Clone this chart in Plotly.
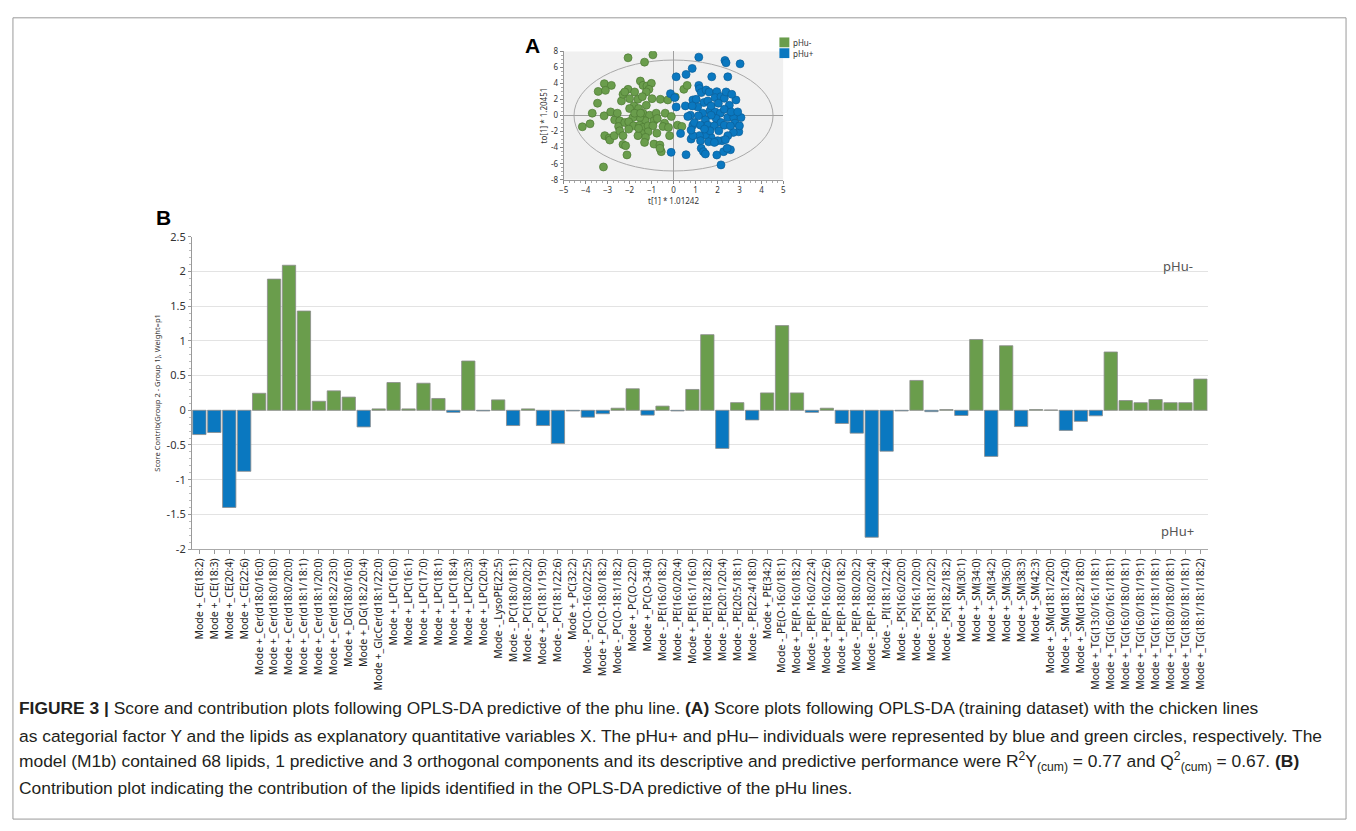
import plotly.graph_objects as go

# ---------------- DATA ----------------
lipids = [
    "Mode +_CE(18:2)", "Mode +_CE(18:3)", "Mode +_CE(20:4)", "Mode +_CE(22:6)",
    "Mode +_Cer(d18:0/16:0)", "Mode +_Cer(d18:0/18:0)", "Mode +_Cer(d18:0/20:0)",
    "Mode +_Cer(d18:1/18:1)", "Mode +_Cer(d18:1/20:0)", "Mode +_Cer(d18:2/23:0)",
    "Mode +_DG(18:0/16:0)", "Mode +_DG(18:2/20:4)", "Mode +_GlcCer(d18:1/22:0)",
    "Mode +_LPC(16:0)", "Mode +_LPC(16:1)", "Mode +_LPC(17:0)", "Mode +_LPC(18:1)",
    "Mode +_LPC(18:4)", "Mode +_LPC(20:3)", "Mode +_LPC(20:4)", "Mode -_LysoPE(22:5)",
    "Mode -_PC(18:0/18:1)", "Mode -_PC(18:0/20:2)", "Mode +_PC(18:1/19:0)",
    "Mode -_PC(18:1/22:6)", "Mode +_PC(32:2)", "Mode -_PC(O-16:0/22:5)",
    "Mode +_PC(O-18:0/18:2)", "Mode -_PC(O-18:1/18:2)", "Mode +_PC(O-22:0)",
    "Mode +_PC(O-34:0)", "Mode -_PE(16:0/18:2)", "Mode -_PE(16:0/20:4)",
    "Mode +_PE(16:1/16:0)", "Mode -_PE(18:2/18:2)", "Mode -_PE(20:1/20:4)",
    "Mode -_PE(20:5/18:1)", "Mode -_PE(22:4/18:0)", "Mode +_PE(34:2)",
    "Mode -_PE(O-16:0/18:1)", "Mode +_PE(P-16:0/18:2)", "Mode -_PE(P-16:0/22:4)",
    "Mode +_PE(P-16:0/22:6)", "Mode +_PE(P-18:0/18:2)", "Mode -_PE(P-18:0/20:2)",
    "Mode -_PE(P-18:0/20:4)", "Mode -_PI(18:1/22:4)", "Mode -_PS(16:0/20:0)",
    "Mode -_PS(16:1/20:0)", "Mode -_PS(18:1/20:2)", "Mode -_PS(18:2/18:2)",
    "Mode +_SM(30:1)", "Mode +_SM(34:0)", "Mode +_SM(34:2)", "Mode +_SM(36:0)",
    "Mode +_SM(38:3)", "Mode +_SM(42:3)", "Mode +_SM(d18:1/20:0)",
    "Mode +_SM(d18:1/24:0)", "Mode +_SM(d18:2/18:0)", "Mode +_TG(13:0/16:1/18:1)",
    "Mode +_TG(16:0/16:1/18:1)", "Mode +_TG(16:0/18:0/18:1)", "Mode +_TG(16:0/18:1/19:1)",
    "Mode +_TG(16:1/18:1/18:1)", "Mode +_TG(18:0/18:0/18:1)", "Mode +_TG(18:0/18:1/18:1)",
    "Mode +_TG(18:1/18:1/18:2)",
]

contrib = [
    -0.35, -0.32, -1.40, -0.88, 0.245, 1.89, 2.09, 1.43, 0.13, 0.28,
    0.19, -0.24, 0.02, 0.40, 0.02, 0.39, 0.17, -0.03, 0.71, -0.01,
    0.15, -0.22, 0.02, -0.22, -0.48, -0.01, -0.10, -0.05, 0.03, 0.31,
    -0.07, 0.06, -0.01, 0.30, 1.09, -0.55, 0.11, -0.14, 0.25, 1.22,
    0.25, -0.03, 0.03, -0.19, -0.33, -1.83, -0.59, -0.01, 0.43, -0.02,
    0.01, -0.075, 1.02, -0.665, 0.93, -0.235, 0.01, 0.005, -0.29, -0.16,
    -0.08, 0.84, 0.14, 0.11, 0.155, 0.11, 0.11, 0.45,
]

y_ticks = [2.5, 2, 1.5, 1, 0.5, 0, -0.5, -1, -1.5, -2]
y_tick_text = ["2.5", "2", "1.5", "1", "0.5", "0", "-0.5", "-1", "-1.5", "-2"]

# Score plot (panel A): pHu- (green) and pHu+ (blue) individuals
neg_x = [-0.94, -2.07, -1.32, -3.15, -2.83, -3.43, -3.10, -3.46, -3.70, -3.16,
         -4.15, -3.80, -3.13, -2.93, -2.90, -2.70, -2.30, -2.18, -2.12, -3.19,
         -2.86, -2.68, -2.56, -2.45, -2.50, -2.22, -2.37, -2.30, -2.07, -2.22,
         -1.77, -2.00, -1.80, -2.00, -1.62, -1.51, -1.39, -1.21, -1.01, -1.12,
         -1.24, -1.42, -0.98, -1.24, -1.59, -1.39, -1.09, -0.79, -0.89, -1.29,
         -1.54, -1.85, -2.04, -1.82, -1.54, -1.39, -1.16, -0.94, -1.16, -1.47,
         -1.62, -1.27, -1.32, -0.76, -0.89, -0.62, -0.56, -0.62, -0.60, -0.26,
         -0.38, -0.10, -0.41, -0.48, -0.23, 0.18, 0.38, -0.18, 0.08, 0.47,
         0.62, -1.59, -2.04, -1.77, -1.50, -0.74, -2.45, -2.30]
neg_y = [7.55, 7.18, 6.64, 3.96, 3.75, 3.00, 3.13, 1.53, 0.29, -0.04,
         -1.40, -1.03, -2.50, -2.80, -3.05, -2.50, -3.60, -3.75, -4.90, -6.40,
         0.45, -0.54, 0.29, -0.66, -1.36, -0.87, 1.81, 2.64, 3.26, 2.93,
         2.93, 2.10, 1.20, 0.87, 2.02, 4.29, 3.75, 3.67, 4.00, 3.26,
         2.93, 2.35, 2.10, 1.28, 0.87, 0.29, 0.04, 0.29, -0.66, -0.66,
         -0.25, -0.25, -0.78, -1.28, -1.20, -1.48, -1.28, -1.28, -2.02, -2.19,
         -2.50, -2.72, -3.34, -2.19, -3.55, -3.67, -4.49, -4.08, 2.02, 1.94,
         0.29, -0.12, -0.95, -1.36, -1.48, -1.20, -1.36, -2.50, 2.31, 3.26,
         3.75, -1.60, -1.69, 0.29, 0.29, -0.37, -1.90, -2.50]

pos_x = [1.15, 2.34, 2.39, 3.03, 0.85, 0.57, 0.12, 1.74, 2.47, -0.14,
         0.12, 0.05, 0.54, 0.88, 0.77, -0.11, 0.57, 0.32, 0.80, 0.88,
         1.15, 1.18, 1.26, 1.48, 1.62, 1.97, 1.89, 2.16, 2.31, 2.54,
         2.84, 2.39, 2.65, 1.03, 1.38, 1.56, 1.10, 1.33, 1.66, 1.89,
         2.13, 1.94, 1.71, 1.45, 1.13, 0.95, 1.23, 1.56, 1.86, 2.16,
         2.47, 2.74, 3.07, 2.80, 2.97, 2.72, 2.47, 2.21, 2.36, 2.01,
         1.71, 1.45, 1.18, 0.88, 1.23, 1.60, 1.86, 1.26, 1.36, 1.45,
         1.97, 2.28, 2.59, 2.44, 2.16, 2.31, 2.59, 2.06, 1.66, 1.41,
         0.80, 0.65, 0.85, 1.71, 2.04, 2.31, 2.62, 2.92, 3.00]
pos_y = [7.26, 6.85, 6.56, 6.43, 5.86, 5.11, 4.82, 4.82, 4.82, 2.72,
         1.07, 2.23, 1.20, 1.94, 0.04, -4.58, -4.87, -2.23, -2.93, -1.20,
         3.75, 3.34, 2.85, 3.18, 2.93, 2.97, 2.23, 2.35, 2.14, 1.28,
         1.94, 2.93, 2.64, 2.02, 1.61, 1.81, 1.07, 0.29, 0.58, 0.45,
         0.29, -0.37, 0.04, -0.54, -0.04, -0.87, -1.20, -1.20, -1.28, -0.87,
         -0.25, -0.25, -0.25, -0.95, -2.02, -2.10, -2.50, -3.13, -3.00, -3.13,
         -2.72, -2.43, -2.50, -2.50, -3.13, -3.26, -3.34, -4.08, -4.49, -4.78,
         -4.91, -4.49, -4.25, -4.08, -6.14, -1.20, -1.28, -1.90, -1.90, -1.69,
         -1.81, -0.12, 1.20, 1.20, 1.53, 0.78, 0.45, 0.45, -1.28]

# ---------------- STYLE ----------------
GREEN = "#6a9d4c"
BLUE = "#0a78c0"
FONT = "Noto Sans, Open Sans, DejaVu Sans, sans-serif"
CAPFONT = "Liberation Sans, Arial, sans-serif"
W, H = 1356, 831


def px(x):
    return x / W


def py(y):
    return 1 - y / H


fig = go.Figure()

# Panel B: contribution bars
fig.add_trace(go.Bar(
    x=lipids, y=contrib,
    marker=dict(color=[GREEN if v >= 0 else BLUE for v in contrib],
                line=dict(color="#8c8c8c", width=0.8)),
    xaxis="x2", yaxis="y2", showlegend=False, hoverinfo="x+y",
))

# Panel A: score scatter
fig.add_trace(go.Scatter(
    x=neg_x, y=neg_y, mode="markers", name="pHu-", showlegend=False,
    marker=dict(size=8, color=GREEN, line=dict(color="#4d7a34", width=0.7)),
    xaxis="x", yaxis="y",
))
fig.add_trace(go.Scatter(
    x=pos_x, y=pos_y, mode="markers", name="pHu+", showlegend=False,
    marker=dict(size=8, color=BLUE, line=dict(color="#0b5e98", width=0.7)),
    xaxis="x", yaxis="y",
))

shapes = [
    # light grey plot background for panel A
    dict(type="rect", xref="x", yref="y", x0=-5, x1=5, y0=-8, y1=8,
         fillcolor="#f0f0f0", line=dict(width=0), layer="below"),
    # Hotelling ellipse in panel A
    dict(type="circle", xref="x", yref="y", x0=-4.53, x1=4.53, y0=-6.9, y1=6.9,
         line=dict(color="#a8a8a8", width=1), layer="below"),
    # frame around figure
    dict(type="rect", xref="paper", yref="paper", x0=px(8), x1=px(1349),
         y0=py(826), y1=py(10), line=dict(color="#9a9a9a", width=1)),
    # legend squares for panel A
    dict(type="rect", xref="paper", yref="paper", x0=px(779), x1=px(789),
         y0=py(40), y1=py(30), fillcolor=GREEN, line=dict(width=0)),
    dict(type="rect", xref="paper", yref="paper", x0=px(779), x1=px(789),
         y0=py(51), y1=py(41), fillcolor=BLUE, line=dict(width=0)),
]

annotations = [
    dict(text="<b>A</b>", x=px(521), y=py(38), xref="paper", yref="paper",
         xanchor="left", yanchor="middle", showarrow=False,
         font=dict(family="Liberation Sans, Arial, sans-serif", size=21, color="#000")),
    dict(text="<b>B</b>", x=px(150), y=py(213), xref="paper", yref="paper",
         xanchor="left", yanchor="middle", showarrow=False,
         font=dict(family="Liberation Sans, Arial, sans-serif", size=21, color="#000")),
    dict(text="pHu-", x=px(791), y=py(35), xref="paper", yref="paper",
         xanchor="left", yanchor="middle", showarrow=False,
         font=dict(family=FONT, size=8, color="#333")),
    dict(text="pHu+", x=px(791), y=py(46), xref="paper", yref="paper",
         xanchor="left", yanchor="middle", showarrow=False,
         font=dict(family=FONT, size=8, color="#333")),
    dict(text="pHu-", x=px(1197), y=py(263), xref="paper", yref="paper",
         xanchor="right", yanchor="middle", showarrow=False,
         font=dict(family=FONT, size=13, color="#555")),
    dict(text="pHu+", x=px(1198), y=py(533), xref="paper", yref="paper",
         xanchor="right", yanchor="middle", showarrow=False,
         font=dict(family=FONT, size=13, color="#555")),
]

caption = [
    "<b>FIGURE 3 |</b> Score and contribution plots following OPLS-DA predictive of the phu line. "
    "<b>(A)</b> Score plots following OPLS-DA (training dataset) with the chicken lines",
    "as categorial factor Y and the lipids as explanatory quantitative variables X. The pHu+ and "
    "pHu\u2013 individuals were represented by blue and green circles, respectively. The",
    "model (M1b) contained 68 lipids, 1 predictive and 3 orthogonal components and its descriptive "
    "and predictive performance were R<sup>2</sup>Y<sub>(cum)</sub> = 0.77 and "
    "Q<sup>2</sup><sub>(cum)</sub> = 0.67. <b>(B)</b>",
    "Contribution plot indicating the contribution of the lipids identified in the OPLS-DA "
    "predictive of the pHu lines.",
]
cap_y = [713, 741, 767, 794]
for line, yy in zip(caption, cap_y):
    annotations.append(dict(
        text=line, x=px(12), y=py(yy), xref="paper", yref="paper",
        xanchor="left", yanchor="middle", showarrow=False, align="left",
        font=dict(family=CAPFONT, size=17.4, color="#231f20")))

fig.update_layout(
    width=W, height=H, autosize=False,
    margin=dict(l=0, r=0, t=0, b=0),
    paper_bgcolor="white", plot_bgcolor="white",
    bargap=0.11,
    shapes=shapes, annotations=annotations,
    font=dict(family=FONT, color="#333"),
    xaxis=dict(
        domain=[px(562), px(783)], anchor="y", range=[-5, 5],
        tickmode="linear", tick0=-5, dtick=1,
        ticks="outside", ticklen=3, tickcolor="#888",
        minor=dict(ticks="outside", ticklen=2, dtick=0.25, tickcolor="#aaa"),
        showgrid=False, zeroline=True, zerolinecolor="#a0a0a0", zerolinewidth=1,
        showline=True, linecolor="#999", mirror=False,
        tickfont=dict(size=8, color="#333"),
        title=dict(text="t[1] * 1.01242", font=dict(size=8, color="#333"), standoff=1),
    ),
    yaxis=dict(
        domain=[py(175), py(44)], anchor="x", range=[-8, 8],
        tickvals=[-8, -6, -4, -2, 0, 2, 4, 6, 8],
        ticktext=["-8", "-6", "-4", "-2", "0", "2", "4", "6", "8"],
        ticks="outside", ticklen=3, tickcolor="#888",
        minor=dict(ticks="outside", ticklen=2, dtick=0.5, tickcolor="#aaa"),
        showgrid=False, zeroline=True, zerolinecolor="#a0a0a0", zerolinewidth=1,
        showline=True, linecolor="#999",
        tickfont=dict(size=8, color="#333"),
        title=dict(text="to[1] * 1.20451", font=dict(size=8, color="#333"), standoff=2),
    ),
    xaxis2=dict(
        domain=[px(188), px(1210)], anchor="y2", type="category",
        tickangle=-90, tickfont=dict(size=10.5, color="#222", family=FONT),
        ticks="outside", ticklen=4, tickcolor="#999",
        showline=True, linecolor="#aaa", showgrid=False,
        range=[-0.5, len(lipids) - 0.5],
    ),
    yaxis2=dict(
        domain=[py(551), py(233)], anchor="x2", range=[-2, 2.5],
        tickvals=y_ticks, ticktext=y_tick_text,
        tickfont=dict(size=11, color="#333"),
        showgrid=True, gridcolor="#e3e3e3", gridwidth=1, zeroline=False,
        showline=True, linecolor="#999",
        ticks="outside", ticklen=3, tickcolor="#999",
        minor=dict(ticks="outside", ticklen=2, dtick=0.1, tickcolor="#bbb", showgrid=False),
        title=dict(text="Score Contrib(Group 2 - Group 1), Weight=p1",
                   font=dict(size=7.5, color="#333"), standoff=4),
    ),
)

fig.write_html("out.html")
